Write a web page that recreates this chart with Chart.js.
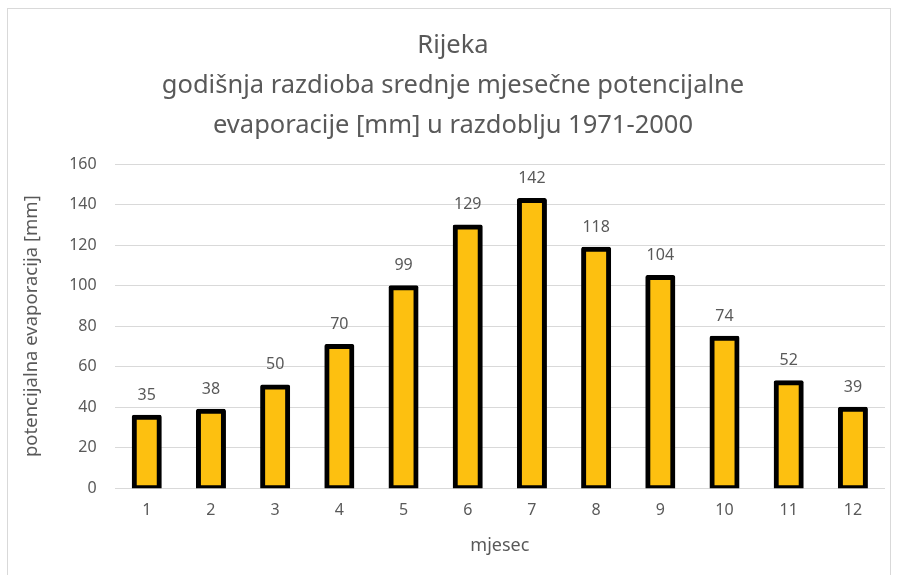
<!DOCTYPE html>
<html lang="hr">
<head>
    <meta charset="UTF-8">
    <title>Rijeka evaporacija</title>
    <script src="https://cdn.jsdelivr.net/npm/chart.js"></script>
    <style>
        body {
            margin: 0;
            background: #ffffff;
            width: 899px;
            height: 575px;
            overflow: hidden;
            position: relative;
        }
        .frame {
            position: absolute;
            left: 7px;
            top: 8px;
            width: 884px;
            height: 580px;
            border: 1px solid #d9d9d9;
            box-sizing: border-box;
        }
        .frame canvas {
            display: block;
        }
    </style>
</head>
<body>
    <div class="frame">
        <canvas id="evapChart" width="882" height="578"></canvas>
    </div>

    <script>
        const months = ["1", "2", "3", "4", "5", "6", "7", "8", "9", "10", "11", "12"];
        const evaporation = [35, 38, 50, 70, 99, 129, 142, 118, 104, 74, 52, 39];
        const yTicks = [0, 20, 40, 60, 80, 100, 120, 140, 160];
        const titleLines = [
            "Rijeka",
            "godišnja razdioba srednje mjesečne potencijalne",
            "evaporacije [mm] u razdoblju 1971-2000"
        ];

        const textGrey = "#595959";
        const fontName = "'Noto Sans', 'Open Sans', sans-serif";

        // draws the value above each bar
        const valueLabels = {
            id: "valueLabels",
            afterDatasetsDraw(chart) {
                const ctx = chart.ctx;
                const meta = chart.getDatasetMeta(0);
                ctx.save();
                ctx.fillStyle = textGrey;
                ctx.font = "16px " + fontName;
                ctx.textAlign = "center";
                ctx.textBaseline = "middle";
                meta.data.forEach((bar, i) => {
                    ctx.fillText(String(evaporation[i]), bar.x, bar.y - 22);
                });
                ctx.restore();
            }
        };

        const ctx = document.getElementById("evapChart").getContext("2d");
        new Chart(ctx, {
            type: "bar",
            data: {
                labels: months,
                datasets: [{
                    data: evaporation,
                    backgroundColor: "#fdc010",
                    borderColor: "#000000",
                    borderWidth: 5,
                    borderSkipped: false,
                    borderRadius: 2,
                    inflateAmount: 2.5,   // border sits centred on the bar edge, like Excel
                    barPercentage: 0.39,
                    categoryPercentage: 1
                }]
            },
            options: {
                responsive: false,
                animation: false,
                layout: { padding: { top: 17, right: 5, bottom: 30, left: 13 } },
                plugins: {
                    legend: { display: false },
                    tooltip: { enabled: false },
                    title: {
                        display: true,
                        text: titleLines,
                        color: textGrey,
                        font: { family: fontName, size: 25.5, weight: "normal", lineHeight: 1.57 },
                        padding: { top: 0, bottom: 18 }
                    }
                },
                scales: {
                    x: {
                        grid: { display: false, drawTicks: false },
                        border: { display: false },
                        ticks: { color: textGrey, font: { family: fontName, size: 16 }, padding: 13 },
                        title: {
                            display: true,
                            text: "mjesec",
                            color: textGrey,
                            font: { family: fontName, size: 18 },
                            padding: { top: 2, bottom: 0 }
                        }
                    },
                    y: {
                        min: 0,
                        max: 160,
                        afterBuildTicks(axis) {
                            axis.ticks = yTicks.map(v => ({ value: v }));
                        },
                        grid: { color: "#d9d9d9", lineWidth: 1, drawTicks: false },
                        border: { display: false },
                        ticks: { color: textGrey, font: { family: fontName, size: 16 }, padding: 18 },
                        title: {
                            display: true,
                            text: "potencijalna evaporacija [mm]",
                            color: textGrey,
                            font: { family: fontName, size: 18.5 },
                            padding: { top: 0, bottom: 8 }
                        }
                    }
                }
            },
            plugins: [valueLabels]
        });
    </script>
</body>
</html>
